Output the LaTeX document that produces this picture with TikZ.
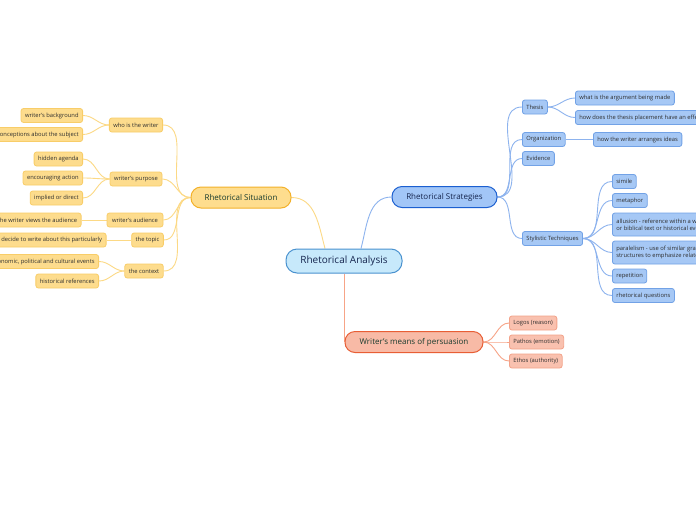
\documentclass[tikz,border=0pt]{standalone}
\usepackage{fontspec}
\setmainfont{Open Sans}
\usetikzlibrary{calc,backgrounds}
\definecolor{yfill}{HTML}{FDDC8D}
\definecolor{ybd}{HTML}{F8CD68}
\definecolor{ymfill}{HTML}{FEDD8E}
\definecolor{ymbd}{HTML}{F3B12A}
\definecolor{ylink}{HTML}{FCD985}
\definecolor{bfill}{HTML}{A6C8F5}
\definecolor{bbd}{HTML}{72A2E6}
\definecolor{bmfill}{HTML}{A2C6F7}
\definecolor{bmbd}{HTML}{1B5FD0}
\definecolor{blink}{HTML}{8DB3EE}
\definecolor{cfill}{HTML}{C7E9FB}
\definecolor{cbd}{HTML}{4A92CF}
\definecolor{ofill}{HTML}{F9C1AF}
\definecolor{obd}{HTML}{F3A38A}
\definecolor{omfill}{HTML}{F8BAA6}
\definecolor{ombd}{HTML}{E85E35}
\definecolor{olink}{HTML}{F7A487}
\definecolor{smalltxt}{HTML}{2E2E2E}
\definecolor{maintxt}{HTML}{173B2E}
\definecolor{ctxt}{HTML}{16264F}
\tikzset{
  leaf/.style={rounded corners=2.5pt, line width=0.8pt, minimum height=14pt, inner xsep=4pt, inner ysep=0pt,
    font=\fontsize{5.8}{7}\selectfont, text=smalltxt},
  yleaf/.style={leaf, draw=ybd, fill=yfill},
  bleaf/.style={leaf, draw=bbd, fill=bfill},
  oleaf/.style={leaf, draw=obd, fill=ofill},
  twoline/.style={minimum height=23pt, align=left},
  mainbr/.style={rounded corners=10pt, line width=1pt, minimum height=21pt, inner ysep=0pt,
    font=\fontsize{8}{10}\selectfont, text=maintxt},
  ylk/.style={draw=ylink, line width=0.9pt},
  blk/.style={draw=blink, line width=0.9pt},
  olk/.style={draw=olink, line width=0.9pt},
}
\begin{document}
\begin{tikzpicture}[x=1pt,y=-1pt]
\useasboundingbox (0,0) rectangle (696,520);
\clip (0,0) rectangle (696,520);

% central
\node[rounded corners=11pt, draw=cbd, fill=cfill, line width=1pt, minimum width=116pt, minimum height=24pt,
  inner sep=0pt, font=\fontsize{10}{12}\selectfont, text=ctxt] (ra) at (344,261) {Rhetorical Analysis};

% main branches
\node[mainbr, draw=ymbd, fill=ymfill, minimum width=100pt] (rs) at (241,197.5) {Rhetorical Situation};
\node[mainbr, draw=bmbd, fill=bmfill, minimum width=105pt, text=ctxt] (st) at (444.5,197) {Rhetorical Strategies};
\node[mainbr, draw=ombd, fill=omfill, minimum width=138pt] (wm) at (414,342) {Writer's means of persuasion};

% left children
\node[yleaf, minimum width=52pt] (who) at (136,125) {who is the writer};
\node[yleaf, minimum width=52pt] (pur) at (136,179) {writer's purpose};
\node[yleaf, minimum width=56pt] (aud) at (135,220) {writer's audience};
\node[yleaf, minimum width=31pt] (top) at (147.5,240) {the topic};
\node[yleaf, minimum width=38pt] (con) at (144,271) {the context};

\node[yleaf, anchor=east] (bg) at (83,115.5) {writer's background};
\node[yleaf, anchor=east] (pre) at (83,134.5) {preconceptions about the subject};
\node[yleaf, anchor=east] (hid) at (83,159) {hidden agenda};
\node[yleaf, anchor=east] (enc) at (83,178) {encouraging action};
\node[yleaf, anchor=east] (imp) at (83,198) {implied or direct};
\node[yleaf, anchor=east] (how) at (81.5,220) {how the writer views the audience};
\node[yleaf, anchor=east] (why) at (106.5,240) {why did the writer decide to write about this particularly};
\node[yleaf, anchor=east] (soc) at (99,261.5) {social, economic, political and cultural events};
\node[yleaf, anchor=east] (his) at (99,281) {historical references};

% right children
\node[bleaf, anchor=west] (the) at (522,107) {Thesis};
\node[bleaf, anchor=west] (arg) at (575,98) {what is the argument being made};
\node[bleaf, anchor=west] (pla) at (575,117.5) {how does the thesis placement have an effect};
\node[bleaf, anchor=west] (org) at (522,139.5) {Organization};
\node[bleaf, anchor=west] (arr) at (593,139.5) {how the writer arranges ideas};
\node[bleaf, anchor=west] (evi) at (522,158.5) {Evidence};
\node[bleaf, anchor=west] (sty) at (522,238.5) {Stylistic Techniques};
\node[bleaf, anchor=west] (sim) at (612,181.5) {simile};
\node[bleaf, anchor=west] (met) at (612,200.5) {metaphor};
\node[bleaf, twoline, anchor=west] (all) at (612,224.5) {allusion - reference within a work to a mythological\\or biblical text or historical event};
\node[bleaf, twoline, anchor=west] (par) at (612,252.5) {paralelism - use of similar grammatical\\structures to emphasize related ideas};
\node[bleaf, anchor=west] (rep) at (612,276) {repetition};
\node[bleaf, anchor=west] (rq) at (612,295.5) {rhetorical questions};

\node[oleaf, anchor=west] (log) at (509,323) {Logos (reason)};
\node[oleaf, anchor=west] (pat) at (509,342) {Pathos (emotion)};
\node[oleaf, anchor=west] (eth) at (509,361) {Ethos (authority)};

\begin{scope}[on background layer]
\fill[white] (0,0) rectangle (696,520);
\draw[ylk] ($(ra.north)+(-19,0)$) to[out=105,in=0] (rs.east);
\draw[blk] ($(ra.north)+(17,0)$) to[out=75,in=180] (st.west);
\draw[olk] (ra.south) -- (ra.south |- wm.west);

\foreach \n in {who,pur,aud,top,con} \draw[ylk] (rs.west) to[out=180,in=0] (\n.east);
\foreach \n in {bg,pre} \draw[ylk] (who.west) to[out=180,in=0] (\n.east);
\foreach \n in {hid,enc,imp} \draw[ylk] (pur.west) to[out=180,in=0] (\n.east);
\draw[ylk] (aud.west) -- (how.east);
\draw[ylk] (top.west) -- (why.east);
\foreach \n in {soc,his} \draw[ylk] (con.west) to[out=180,in=0] (\n.east);

\foreach \n in {the,org,evi,sty} \draw[blk] (st.east) to[out=0,in=180] (\n.west);
\foreach \n in {arg,pla} \draw[blk] (the.east) to[out=0,in=180] (\n.west);
\draw[blk] (org.east) -- (arr.west);
\foreach \n in {sim,met,all,par,rep,rq} \draw[blk] (sty.east) to[out=0,in=180] (\n.west);

\foreach \n in {log,pat,eth} \draw[olk] (wm.east) to[out=0,in=180] (\n.west);
\end{scope}
\end{tikzpicture}
\end{document}
